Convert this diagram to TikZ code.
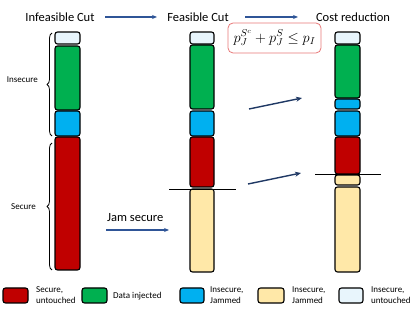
\documentclass[tikz,border=0pt]{standalone}
\usepackage{fontspec}
\setmainfont{Carlito}
\usepackage{amsmath,amssymb}
\usepackage{xcolor}
\usetikzlibrary{arrows.meta,decorations.pathreplacing}

\definecolor{secred}{HTML}{C00000}
\definecolor{datagreen}{HTML}{00B050}
\definecolor{jamblue}{HTML}{00B0F0}
\definecolor{jamyellow}{HTML}{FFE8A8}
\definecolor{freeblue}{HTML}{E8F5FC}
\definecolor{flowblue}{HTML}{2F5597}
\definecolor{navy}{HTML}{1F3864}
\definecolor{boxred}{HTML}{E87878}

\begin{document}
\begin{tikzpicture}[x=1pt, y=-1pt, >=Stealth, line join=round]
  \tikzset{
    seg/.style={draw=black, line width=1.1pt, rounded corners=2.5pt},
    title/.style={font=\fontsize{12.5}{14}\selectfont, inner sep=1pt},
    small/.style={font=\fontsize{9}{10.5}\selectfont, inner sep=0pt, align=left},
    flow/.style={->, flowblue, line width=1.1pt, >={Stealth[length=5pt,width=4pt]}},
    jump/.style={->, navy, line width=1.4pt, >={Stealth[length=6pt,width=5pt]}},
    curly/.style={decorate, decoration={brace, amplitude=5pt}, line width=0.8pt}
  }
  \useasboundingbox (0,0) rectangle (415,312);
  % titles
  \node[title] (T1) at (60,17) {Infeasible Cut};
  \node[title] (T2) at (198,17) {Feasible Cut};
  \node[title] (T3) at (353,17) {Cost reduction};
  \coordinate (F1a) at (105,17);
  \coordinate (F1b) at (157,17);
  \coordinate (F2a) at (245,17);
  \coordinate (F2b) at (298,17);
  \draw[flow] (F1a) -- (F1b);
  \draw[flow] (F2a) -- (F2b);
  % infeasible cut
  \draw[seg, fill=freeblue] (55,32) rectangle (80,44);
  \draw[seg, fill=datagreen] (55,46) rectangle (80,110);
  \draw[seg, fill=jamblue] (55,111) rectangle (80,136);
  \draw[seg, fill=secred] (55,137) rectangle (80,270);
  \draw[curly] (52,136) -- (52,33);
  \draw[curly] (52,270) -- (52,143);
  \node[small, anchor=east] (L1) at (38,80) {Insecure};
  \node[small, anchor=east] (L2) at (36,207) {Secure};
  % feasible cut
  \draw[seg, fill=freeblue] (190,32) rectangle (214,44);
  \draw[seg, fill=datagreen] (190,45) rectangle (214,109);
  \draw[seg, fill=jamblue] (190,111) rectangle (214,136);
  \draw[seg, fill=secred] (190,137) rectangle (214,187);
  \draw[seg, fill=jamyellow] (190,189) rectangle (214,272);
  \coordinate (C1a) at (169,189);
  \coordinate (C1b) at (236,189);
  \draw[line width=0.9pt] (C1a) -- (C1b);
  \node[title, anchor=west] (J) at (106,218) {Jam secure};
  \coordinate (J1a) at (106,230);
  \coordinate (J1b) at (169,230);
  \draw[flow] (J1a) -- (J1b);
  \node[draw=boxred, line width=0.8pt, rounded corners=5pt, fill=white,
        minimum width=93pt, minimum height=30pt, inner sep=2pt,
        font=\fontsize{14}{16}\selectfont] (B) at (274.5,38) {$p_J^{S^c}+p_J^{S}\le p_I$};
  % cost reduction
  \draw[seg, fill=freeblue] (335,32) rectangle (360,44);
  \draw[seg, fill=datagreen] (335,45) rectangle (360,98);
  \draw[seg, fill=jamblue] (335,99) rectangle (360,109);
  \draw[seg, fill=jamblue] (335,111) rectangle (360,136);
  \draw[seg, fill=secred] (335,137) rectangle (360,174);
  \draw[seg, fill=jamyellow] (335,175) rectangle (360,185);
  \draw[seg, fill=jamyellow] (335,187) rectangle (360,272);
  \coordinate (C2a) at (315,174);
  \coordinate (C2b) at (381,174);
  \draw[line width=0.9pt] (C2a) -- (C2b);
  \coordinate (D1a) at (249,109);
  \coordinate (D1b) at (302,98);
  \coordinate (D2a) at (248,184);
  \coordinate (D2b) at (301,173);
  \draw[jump] (D1a) -- (D1b);
  \draw[jump] (D2a) -- (D2b);
  % legend
  \draw[seg, fill=secred] (3,288) rectangle (28,303);
  \node[small, anchor=west] (G1) at (36,295) {Secure,\\untouched};
  \draw[seg, fill=datagreen] (82,288) rectangle (107,303);
  \node[small, anchor=west] (G2) at (113,296) {Data injected};
  \draw[seg, fill=jamblue] (180,288) rectangle (204,303);
  \node[small, anchor=west] (G3) at (210,295) {Insecure,\\Jammed};
  \draw[seg, fill=jamyellow] (258,288) rectangle (284,303);
  \node[small, anchor=west] (G4) at (292,295) {Insecure,\\Jammed};
  \draw[seg, fill=freeblue] (339,288) rectangle (363,303);
  \node[small, anchor=west] (G5) at (371,295) {Insecure,\\untouched};
\end{tikzpicture}
\end{document}
